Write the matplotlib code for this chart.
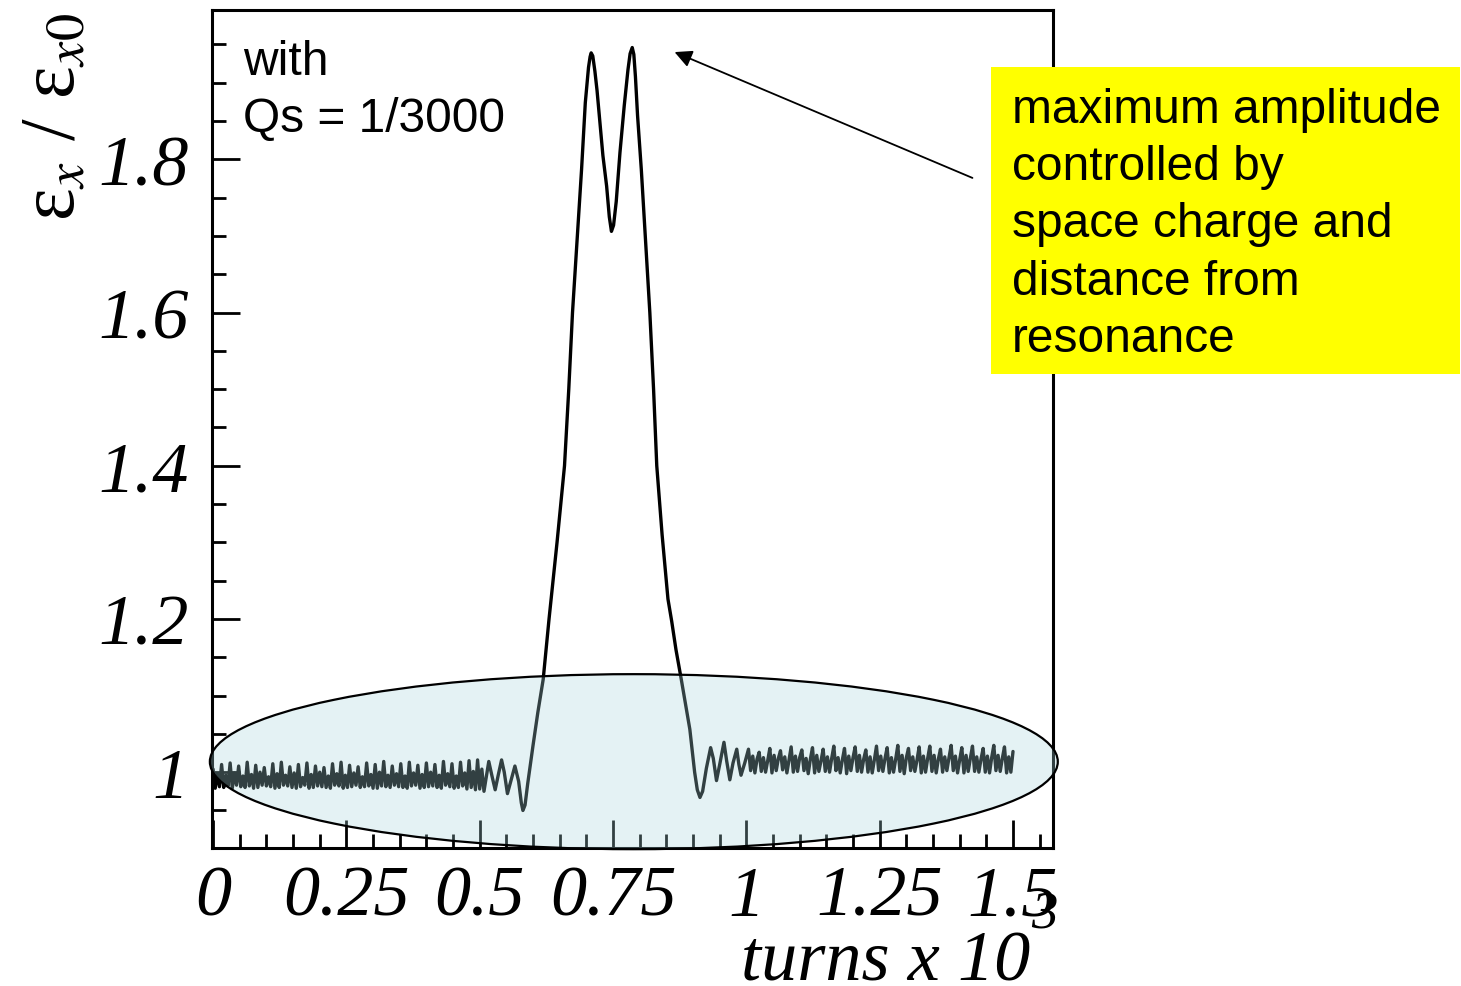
import matplotlib
matplotlib.use("Agg")
import matplotlib.pyplot as plt
import numpy as np
from matplotlib.patches import Ellipse, Rectangle, FancyArrowPatch
from matplotlib.ticker import FixedLocator, MultipleLocator, FixedFormatter

# ---------------------------------------------------------------------------
# Emittance growth  eps_x / eps_x0  versus turns (x 10^3), Qs = 1/3000
# ---------------------------------------------------------------------------

# Before the resonance crossing: one sample every 4 turns, starting at turn 0
emit_before = [
    1.004, 0.979, 0.998, 0.981,  1.010, 0.980, 0.996, 0.982,
    1.012, 0.979, 0.999, 0.983,  1.008, 0.981, 0.995, 0.980,
    1.013, 0.982, 0.997, 0.979,  1.009, 0.980, 1.000, 0.983,
    1.006, 0.982, 0.994, 0.981,  1.011, 0.979, 0.998, 0.980,
    1.013, 0.983, 0.996, 0.982,  1.007, 0.980, 0.999, 0.979,
    1.010, 0.981, 0.993, 0.983,  1.012, 0.979, 0.997, 0.980,
    1.008, 0.982, 1.000, 0.981,  1.006, 0.980, 0.995, 0.979,
    1.011, 0.983, 0.998, 0.982,  1.013, 0.979, 0.996, 0.980,
    1.009, 0.981, 0.999, 0.983,  1.007, 0.980, 0.994, 0.981,
    1.012, 0.982, 0.997, 0.979,  1.010, 0.979, 1.000, 0.982,
    1.014, 0.981, 0.996, 0.980,  1.008, 0.983, 0.998, 0.981,
    1.011, 0.980, 0.995, 0.979,  1.013, 0.982, 0.999, 0.983,
    1.009, 0.979, 0.997, 0.980,  1.012, 0.981, 1.000, 0.982,
    1.010, 0.980, 0.996, 0.979,  1.014, 0.983, 0.998, 0.981,
    1.011, 0.979, 0.995, 0.980,  1.013, 0.982, 0.999, 0.978,
    1.015, 0.980, 1.001, 0.977,  1.016, 0.978, 1.004, 0.975,
]
turn_step = 0.004          # 4 turns, in units of 10^3 turns

# Crossing the resonance (turns x 10^3, eps_x / eps_x0)
turns_cross = [
    0.512, 0.517, 0.523, 0.529, 0.535, 0.541, 0.546, 0.552, 0.559, 0.566,
    0.573, 0.578, 0.581, 0.585, 0.590, 0.595, 0.600, 0.609, 0.619, 0.630,
    0.645, 0.659, 0.667, 0.674, 0.683, 0.691, 0.698, 0.704, 0.707, 0.709,
    0.712, 0.716, 0.720, 0.725, 0.731, 0.738, 0.743, 0.747, 0.751, 0.756,
    0.763, 0.771, 0.778, 0.782, 0.786, 0.789, 0.792, 0.796, 0.803, 0.813,
    0.819, 0.826, 0.832, 0.842, 0.853, 0.860, 0.868, 0.878, 0.894, 0.903,
    0.908, 0.913, 0.918, 0.925, 0.933, 0.938, 0.944, 0.950, 0.958, 0.963,
    0.969, 0.975, 0.982, 0.986, 0.990, 0.997,
]
emit_cross = [
    0.992, 1.014, 0.995, 0.977, 0.997, 1.016, 1.000, 0.972, 0.990, 1.008,
    0.988, 0.960, 0.950, 0.957, 0.985, 1.010, 1.035, 1.078, 1.121, 1.200,
    1.300, 1.400, 1.500, 1.600, 1.700, 1.787, 1.874, 1.920, 1.934, 1.939,
    1.935, 1.915, 1.890, 1.852, 1.805, 1.765, 1.725, 1.706, 1.714, 1.745,
    1.809, 1.870, 1.917, 1.938, 1.946, 1.937, 1.908, 1.857, 1.787, 1.669,
    1.600, 1.500, 1.400, 1.310, 1.226, 1.197, 1.160, 1.121, 1.056, 1.000,
    0.977, 0.967, 0.975, 1.005, 1.032, 1.018, 0.989, 1.010, 1.039, 1.015,
    0.990, 1.012, 1.030, 1.010, 0.996, 1.012,
]

# After the crossing: one sample every 4 turns, ending at turn 1500
emit_after = [
    1.030, 1.002, 1.021, 0.999, 1.017,  1.026, 1.001, 1.019, 1.000, 1.015,
    1.031, 0.999, 1.022, 1.002, 1.018,  1.028, 1.003, 1.020, 0.999, 1.016,
    1.033, 1.000, 1.021, 1.001, 1.019,  1.029, 1.002, 1.018, 0.998, 1.017,
    1.032, 0.999, 1.022, 1.001, 1.015,  1.030, 1.001, 1.020, 1.000, 1.018,
    1.034, 1.002, 1.019, 0.999, 1.016,  1.031, 0.998, 1.021, 1.002, 1.019,
    1.033, 1.001, 1.022, 1.000, 1.017,  1.029, 1.000, 1.020, 0.999, 1.016,
    1.034, 1.002, 1.021, 1.001, 1.018,  1.032, 0.999, 1.019, 1.000, 1.017,
    1.035, 1.001, 1.022, 0.998, 1.019,  1.031, 1.002, 1.020, 1.001, 1.016,
    1.033, 0.999, 1.021, 1.000, 1.018,  1.034, 1.001, 1.022, 0.999, 1.017,
    1.030, 1.000, 1.020, 1.002, 1.019,  1.035, 1.002, 1.021, 0.999, 1.016,
    1.032, 0.999, 1.022, 1.001, 1.018,  1.034, 1.001, 1.020, 1.000, 1.017,
    1.031, 1.000, 1.021, 0.999, 1.019,  1.035, 1.002, 1.022, 1.001, 1.018,
    1.033, 0.999, 1.020, 1.000, 1.027,
]
last_turn = 1.500

x_ticks = [0, 0.25, 0.5, 0.75, 1.0, 1.25, 1.5]
x_tick_labels = ["0", "0.25", "0.5", "0.75", "1", "1.25", "1.5"]
y_ticks = [1.0, 1.2, 1.4, 1.6, 1.8]
y_tick_labels = ["1", "1.2", "1.4", "1.6", "1.8"]

note_text = "with\nQs = 1/3000"
box_text = ("maximum amplitude\ncontrolled by\nspace charge and\n"
            "distance from\nresonance")

# ---------------------------------------------------------------------------
W, H = 1461, 987
fig = plt.figure(figsize=(W / 100, H / 100), dpi=100)
plt.rcParams["mathtext.fontset"] = "stix"


def fx(px):
    return px / W


def fy(py):
    return 1 - py / H


ax = fig.add_axes([fx(212), fy(849), fx(1053) - fx(212), fy(11) - fy(849)])

turns_before = np.arange(len(emit_before)) * turn_step
turns_after = last_turn - np.arange(len(emit_after))[::-1] * turn_step
turns = np.concatenate([turns_before, turns_cross, turns_after])
emit = np.concatenate([emit_before, emit_cross, emit_after])
ax.plot(turns, emit, color="black", lw=2.4, zorder=2,
        solid_joinstyle="round", solid_capstyle="round")

ax.set_xlim(-0.002, 1.575)
ax.set_ylim(0.901, 1.995)

ax.xaxis.set_major_locator(FixedLocator(x_ticks))
ax.xaxis.set_major_formatter(FixedFormatter(x_tick_labels))
ax.xaxis.set_minor_locator(MultipleLocator(0.05))
ax.yaxis.set_major_locator(FixedLocator(y_ticks))
ax.yaxis.set_major_formatter(FixedFormatter(y_tick_labels))
ax.yaxis.set_minor_locator(MultipleLocator(0.05))
ax.tick_params(which="both", direction="in", width=2.0, color="black",
               top=False, right=False)
ax.tick_params(which="major", length=20)
ax.tick_params(which="minor", length=10)
ax.tick_params(axis="x", which="major", pad=12)
ax.tick_params(axis="y", which="major", pad=17)
for lab in ax.get_xticklabels() + ax.get_yticklabels():
    lab.set_fontfamily("Liberation Serif")
    lab.set_fontstyle("italic")
    lab.set_fontsize(52)
for sp in ax.spines.values():
    sp.set_linewidth(2.2)

# Highlighted region around the unit level
ell = Ellipse((0.789, 1.0137), 1.590, 0.2285,
              facecolor=(0.66, 0.84, 0.86, 0.30), edgecolor="black",
              lw=1.6, zorder=3, clip_on=False)
ax.add_patch(ell)

ax.text(0.037, 0.965, note_text, transform=ax.transAxes, ha="left", va="top",
        family="Liberation Sans", fontsize=34.5, linespacing=1.33)

# Axis titles
fig.text(fx(1030), fy(981), "turns x 10", ha="right", va="baseline",
         fontsize=52, family="Liberation Serif", style="italic")
fig.text(fx(1044), fy(928), "3", ha="center", va="baseline",
         fontsize=38, family="Liberation Serif", style="italic")
fig.text(fx(55), fy(117), r"ε$_x$ / ε$_{x\mathit{0}}$",
         rotation=90, ha="center", va="center", fontsize=56,
         family="Liberation Serif")

# Call-out box with arrow to the peak
fig.patches.append(Rectangle((fx(991), fy(375)), fx(1460) - fx(991),
                             fy(68) - fy(375), transform=fig.transFigure,
                             facecolor="#ffff00", edgecolor="none", zorder=5))
fig.text(fx(1012), fy(88), box_text, ha="left", va="top",
         family="Liberation Sans", fontsize=34.5, linespacing=1.35, zorder=6)
fig.patches.append(FancyArrowPatch((fx(975), fy(180)), (fx(672), fy(52)),
                                   transform=fig.transFigure,
                                   arrowstyle="-|>", mutation_scale=26,
                                   color="black", lw=1.3, zorder=6))

fig.savefig("out.png", dpi=100)
